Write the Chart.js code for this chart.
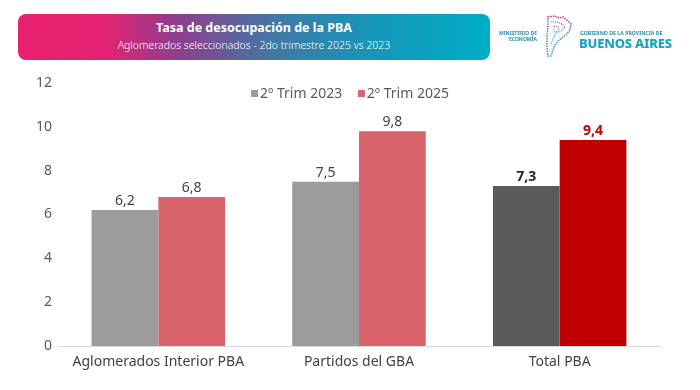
<!DOCTYPE html>
<html>
<head>
<meta charset="utf-8">
<script src="https://cdn.jsdelivr.net/npm/chart.js@4.4.1/dist/chart.umd.min.js"></script>
<style>
  html, body { margin: 0; padding: 0; background: #fff; }
  body { width: 700px; height: 390px; position: relative; overflow: hidden; font-family: "Noto Sans", sans-serif; }
  #wrap { position: absolute; left: 0; top: 0; width: 700px; height: 390px; }
  .banner {
    position: absolute; left: 18px; top: 14px; width: 472px; height: 46px; border-radius: 8px;
    background: linear-gradient(90deg, #e8206f 0%, #e52272 18%, #8c3f8e 34%, #3f7aa5 55%, #1696b8 75%, #00aec6 100%);
    color: #fff; text-align: center;
  }
  .banner .t1 { font-weight: 700; font-size: 12.5px; margin-top: 6px; line-height: 16px; }
  .banner .t2 { font-size: 10.5px; line-height: 16px; margin-top: 1px; font-weight: 300; }
  .legend { position: absolute; top: 83px; left: 0; width: 700px; text-align: center; font-size: 14px; color: #595959; }
  .legend span { margin: 0 6px; }
  .legend i { display: inline-block; width: 7px; height: 7px; margin-right: 2px; vertical-align: 1px; }
  .logo { position: absolute; left: 500px; top: 12px; width: 180px; height: 50px; }
  .logo .min { position: absolute; right: 143px; top: 18px; font-size: 5px; font-weight: 700; color: #2e8ea8; text-align: right; line-height: 6px; white-space: nowrap; }
  .logo .gob { position: absolute; left: 80px; top: 17px; font-size: 5.2px; font-weight: 700; color: #2e8ea8; white-space: nowrap; }
  .logo .ba { position: absolute; left: 79px; top: 22px; font-size: 13px; font-weight: 800; color: #17a3bf; white-space: nowrap; letter-spacing: -0.2px; }
</style>
</head>
<body>
<div id="wrap"><canvas id="c" width="700" height="390"></canvas></div>
<div class="banner">
  <div class="t1">Tasa de desocupación de la PBA</div>
  <div class="t2">Aglomerados seleccionados - 2do trimestre 2025 vs 2023</div>
</div>
<div class="logo">
  <div class="min">MINISTERIO DE<br>ECONOMÍA</div>
  <svg style="position:absolute;left:45px;top:2px" width="28" height="44" viewBox="0 0 28 44">
    <defs><linearGradient id="lg" x1="0" y1="0" x2="0" y2="1"><stop offset="0" stop-color="#d0407a"/><stop offset="0.4" stop-color="#5f8fb6"/><stop offset="1" stop-color="#18a7c0"/></linearGradient></defs>
    <path d="M3 3 L10 2 L14 4 L18 3 L22 6 L26 10 L25 16 L21 21 L17 24 L13 27 L10 31 L8 36 L6 42 L3 42 L2 34 L2 22 L3 12 Z" fill="none" stroke="url(#lg)" stroke-width="1.6" stroke-dasharray="1.5 1"/>
    <path d="M6 8 L12 8 L17 10 L20 13 L16 17 L11 19 L8 25 L6 30" fill="none" stroke="url(#lg)" stroke-width="1.2" stroke-dasharray="1 1"/>
    <path d="M9 12 L14 13 L13 17 L9 18 Z" fill="none" stroke="url(#lg)" stroke-width="1" stroke-dasharray="1 1"/>
  </svg>
  <div class="gob">GOBIERNO DE LA PROVINCIA DE</div>
  <div class="ba">BUENOS AIRES</div>
</div>
<div class="legend">
  <span><i style="background:#9b9b9b"></i>2º Trim 2023</span>
  <span><i style="background:#d9636a"></i>2º Trim 2025</span>
</div>
<script>
const categories = ['Aglomerados Interior PBA', 'Partidos del GBA', 'Total PBA'];
const seriesNames = ['2º Trim 2023', '2º Trim 2025'];
const values2023 = [6.2, 7.5, 7.3];
const values2025 = [6.8, 9.8, 9.4];
const yTicks = [0, 2, 4, 6, 8, 10, 12];

const colors2023 = ['#9b9b9b', '#9b9b9b', '#5a5a5a'];
const colors2025 = ['#d9636a', '#d9636a', '#c00000'];
const labelColors2023 = ['#404040', '#404040', '#262626'];
const labelColors2025 = ['#404040', '#404040', '#c00000'];

// value labels above bars, comma decimal
const barLabels = {
  id: 'barLabels',
  afterDatasetsDraw(chart) {
    const ctx = chart.ctx;
    chart.data.datasets.forEach((ds, i) => {
      chart.getDatasetMeta(i).data.forEach((bar, j) => {
        const bold = j === 2;
        ctx.save();
        ctx.font = (bold ? '700 ' : '400 ') + '14px "Noto Sans", sans-serif';
        ctx.fillStyle = ds.labelColors[j];
        ctx.textAlign = 'center';
        ctx.textBaseline = 'bottom';
        ctx.fillText(ds.data[j].toFixed(1).replace('.', ','), bar.x, bar.y - 2);
        ctx.restore();
      });
    });
  }
};

new Chart(document.getElementById('c'), {
  type: 'bar',
  data: {
    labels: categories,
    datasets: [
      { label: seriesNames[0], data: values2023, backgroundColor: colors2023, labelColors: labelColors2023 },
      { label: seriesNames[1], data: values2025, backgroundColor: colors2025, labelColors: labelColors2025 }
    ]
  },
  options: {
    responsive: false,
    animation: false,
    layout: { padding: { top: 83, right: 40, left: 0, bottom: 0 } },
    plugins: { legend: { display: false }, tooltip: { enabled: false } },
    datasets: { bar: { barPercentage: 1, categoryPercentage: 0.665 } },
    scales: {
      x: {
        grid: { display: false, drawTicks: false },
        border: { color: '#d9d9d9', width: 1 },
        ticks: { padding: 8, color: '#404040', font: { family: '"Noto Sans", sans-serif', size: 14 } },
        afterFit(s) { s.height = 44; }
      },
      y: {
        min: 0, max: 12,
        afterBuildTicks(s) { s.ticks = yTicks.map(v => ({ value: v })); },
        grid: { display: false, drawTicks: false },
        border: { display: false },
        ticks: { padding: 6, color: '#595959', font: { family: '"Noto Sans", sans-serif', size: 14 } },
        afterFit(s) { s.width = 58; }
      }
    }
  },
  plugins: [barLabels]
});
</script>
</body>
</html>
